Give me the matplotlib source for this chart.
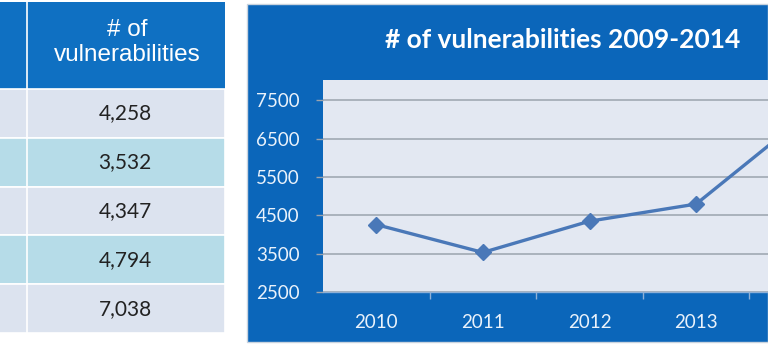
import matplotlib.pyplot as plt
from matplotlib.patches import Rectangle
from matplotlib.ticker import FixedLocator

years = ['2010', '2011', '2012', '2013', '2014']
vulns = [4258, 3532, 4347, 4794, 7038]
y_ticks = [2500, 3500, 4500, 5500, 6500, 7500]
header = '# of\nvulnerabilities'
title = '# of vulnerabilities 2009-2014'

W, H = 768, 350
HEADER_BLUE = '#0f70c2'
PANEL_BLUE = '#0b66ba'
ROW_LIGHT = '#dce3ef'
ROW_BLUE = '#b6dce8'
PLOT_BG = '#e3e8f2'
LINE_BLUE = '#4a78b8'

fig = plt.figure(figsize=(W / 100, H / 100), dpi=100)
fig.patch.set_facecolor('white')

# background layer in pixel coordinates for the table and the chart frame
bg = fig.add_axes([0, 0, 1, 1])
bg.set_xlim(0, W)
bg.set_ylim(H, 0)
bg.axis('off')

# table: header + one row per year, narrow label column on the left
tab_x0, tab_split, tab_x1 = -2, 27, 225
head_top, head_bot = 2, 89
row_h = 48.8
bg.add_patch(Rectangle((tab_x0, head_top), tab_x1 - tab_x0, head_bot - head_top,
                       facecolor=HEADER_BLUE, edgecolor='none'))
bg.plot([tab_split, tab_split], [head_top, head_bot], color='white', lw=1.2)
bg.text((tab_split + tab_x1) / 2 + 1, (head_top + head_bot) / 2 - 3, header,
        ha='center', va='center', color='white', fontsize=17.5,
        family='Liberation Sans', linespacing=1.2)

for i, v in enumerate(vulns):
    top = head_bot + i * row_h
    color = ROW_LIGHT if i % 2 == 0 else ROW_BLUE
    bg.add_patch(Rectangle((tab_x0, top), tab_x1 - tab_x0, row_h,
                           facecolor=color, edgecolor='white', lw=1.2))
    bg.plot([tab_split, tab_split], [top, top + row_h], color='white', lw=1.2)
    bg.text((tab_split + tab_x1) / 2 - 1, top + row_h / 2, f'{v:,}',
            ha='center', va='center', color='#222222', fontsize=15,
            family='Lato')

# chart frame
bg.add_patch(Rectangle((247, 4), W - 247, 338, facecolor=PANEL_BLUE,
                       edgecolor='#c9d3de', lw=1))
bg.text(563, 40, title, ha='center', va='center', color='white',
        fontsize=19, fontweight='bold', family='Lato')

# line chart; the plot area runs past the right edge of the figure
px0, px1, py0, py1 = 323, 856, 80, 292
ax = fig.add_axes([px0 / W, 1 - py1 / H, (px1 - px0) / W, (py1 - py0) / H])
ax.set_facecolor(PLOT_BG)
x = list(range(len(years)))
ax.plot(x, vulns, color=LINE_BLUE, lw=2.4, marker='D', markersize=8,
        markerfacecolor=LINE_BLUE, markeredgecolor=LINE_BLUE, zorder=3)

ax.set_xlim(-0.5, len(years) - 0.5)
ax.set_ylim(2500, 8030)
ax.set_xticks(x)
ax.set_xticklabels(years)
ax.set_yticks(y_ticks)
ax.xaxis.set_minor_locator(FixedLocator([i + 0.5 for i in x]))
ax.grid(axis='y', color='#9aa3ae', lw=1.1)
ax.set_axisbelow(True)

for s in ['top', 'right', 'left']:
    ax.spines[s].set_visible(False)
ax.spines['bottom'].set_color('#8fb0d6')
ax.spines['bottom'].set_linewidth(1.0)

ax.tick_params(axis='y', length=5, width=1, color='#9aa3ae', pad=12,
               labelcolor='#eaf2fb', labelsize=13.5)
ax.tick_params(axis='x', which='major', length=0, pad=16,
               labelcolor='#eaf2fb', labelsize=13.5)
ax.tick_params(axis='x', which='minor', length=5, width=1, color='#8fb0d6')
for lab in ax.get_xticklabels() + ax.get_yticklabels():
    lab.set_family('Lato')
# the last year sits beyond the right edge of the figure
ax.get_xticklabels()[-1].set_visible(False)

fig.savefig('out.png', dpi=100, facecolor=fig.get_facecolor())
